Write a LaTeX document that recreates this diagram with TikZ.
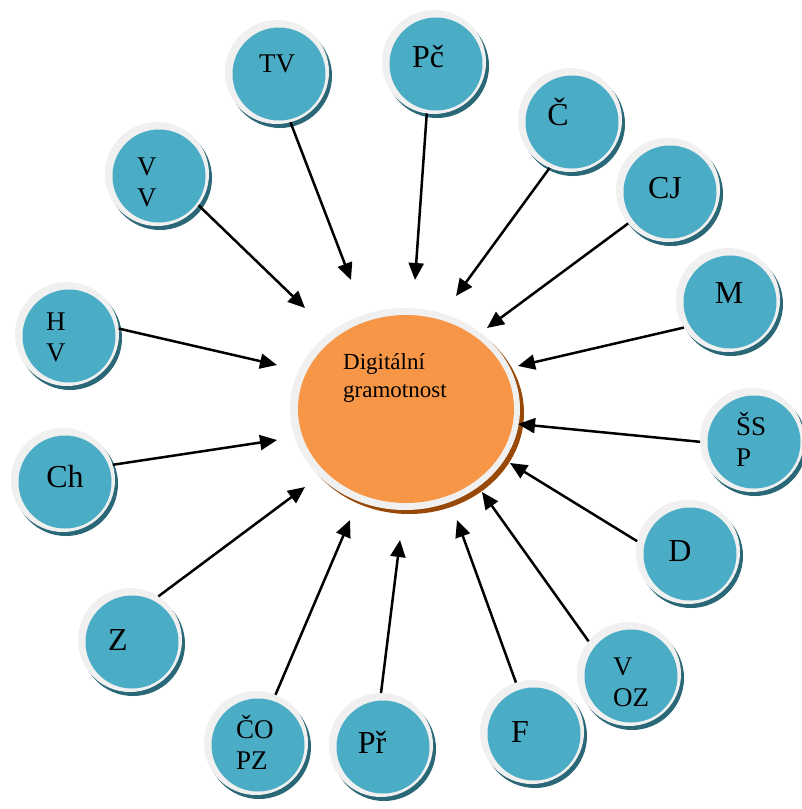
\documentclass[tikz,border=0pt]{standalone}
\usepackage{fontspec}
\setmainfont{Liberation Serif}
\usetikzlibrary{arrows.meta,shapes.geometric}
\definecolor{bubblue}{HTML}{4BACC6}
\definecolor{bubrim}{HTML}{F0F0F0}
\definecolor{bubshade}{HTML}{2A6878}
\definecolor{coreor}{HTML}{F79646}
\definecolor{coreshade}{HTML}{984807}
\newcommand\mybub[3]{%
  \fill[bubshade] (#2+3,#3+4) circle[radius=52pt];
  \node[rimnode] (#1) at (#2,#3) {};
  \fill[bubblue] (#2+2,#3+2) circle[radius=46.5pt];
}
\tikzset{
  rimnode/.style={circle,fill=bubrim,minimum size=104pt,inner sep=0pt,outer sep=0pt},
  labone/.style={inner sep=0pt,font=\fontsize{32}{32}\selectfont},
  labtwo/.style={inner sep=0pt,anchor=west,align=left,font=\fontsize{27}{31}\selectfont},
  arr/.style={line width=2.5pt,-{Triangle[length=17pt,width=15pt]}},
}
\begin{document}
\begin{tikzpicture}[x=1pt,y=-1pt]
\useasboundingbox (0,0) rectangle (802,809);
% central
\fill[coreshade] (409,413) ellipse[x radius=115pt,y radius=101pt];
\node[ellipse,fill=bubrim,minimum width=230pt,minimum height=202pt,inner sep=0pt,outer sep=0pt] (dg) at (405,409) {};
\fill[coreor] (406,409) ellipse[x radius=108pt,y radius=94pt];
\node[inner sep=0pt,anchor=west,align=left,font=\fontsize{23}{28}\selectfont] (dgT) at (343,378) {Digitální\\gramotnost};
% bubbles
\mybub{tv}{277}{72}
\mybub{pc}{434}{62}
\mybub{cc}{570}{120}
\mybub{cj}{668}{190}
\mybub{mm}{728}{300}
\mybub{ssp}{752}{440}
\mybub{dd}{688}{552}
\mybub{voz}{629}{674}
\mybub{ff}{532}{732}
\mybub{pr}{381}{745}
\mybub{copz}{256}{743}
\mybub{zz}{130}{640}
\mybub{ch}{63}{480}
\mybub{hv}{67}{334}
\mybub{vv}{157}{174}
% labels
\node[labone,font=\fontsize{27}{27}\selectfont] (tvT) at (277,64) {TV};
\node[labone] (pcT) at (428,57) {Pč};
\node[labone] (ccT) at (558,112) {Č};
\node[labone] (cjT) at (665,188) {CJ};
\node[labone] (mmT) at (729,293) {M};
\node[labtwo] (sspT) at (736,439) {ŠS\\P};
\node[labone] (ddT) at (680,551) {D};
\node[labtwo] (vozT) at (613,682) {V\\OZ};
\node[labone] (ffT) at (520,732) {F};
\node[labone] (prT) at (372,742) {Př};
\node[labtwo] (copzT) at (236,742) {ČO\\PZ};
\node[labone] (zzT) at (118,640) {Z};
\node[labone] (chT) at (65,477) {Ch};
\node[labtwo] (hvT) at (46,337) {H\\V};
\node[labtwo] (vvT) at (137,182) {V\\V};
% arrow ends
\coordinate (tvE) at (351,280);
\coordinate (pcE) at (415,280);
\coordinate (ccE) at (456,296);
\coordinate (cjE) at (487,328);
\coordinate (mmE) at (518,366);
\coordinate (sspE) at (518,424);
\coordinate (ddE) at (510,463);
\coordinate (vozE) at (482,492);
\coordinate (ffE) at (457,520);
\coordinate (prE) at (400,540);
\coordinate (copzE) at (350,520);
\coordinate (zzE) at (305,487);
\coordinate (chE) at (277,440);
\coordinate (hvE) at (277,365);
\coordinate (vvE) at (305,308);
% arrows
\draw[arr] (tv.285) -- (tvE);
\draw[arr] (pc.262) -- (pcE);
\draw[arr] (cc.247) -- (ccE);
\draw[arr] (cj.220) -- (cjE);
\draw[arr] (mm.212) -- (mmE);
\draw[arr] (ssp.182) -- (sspE);
\draw[arr] (dd.168) -- (ddE);
\draw[arr] (voz.141) -- (vozE);
\draw[arr] (ff.108) -- (ffE);
\draw[arr] (pr.90) -- (prE);
\draw[arr] (copz.68) -- (copzE);
\draw[arr] (zz.57) -- (zzE);
\draw[arr] (ch.17) -- (chE);
\draw[arr] (hv.6) -- (hvE);
\draw[arr] (vv.323) -- (vvE);
\end{tikzpicture}
\end{document}
